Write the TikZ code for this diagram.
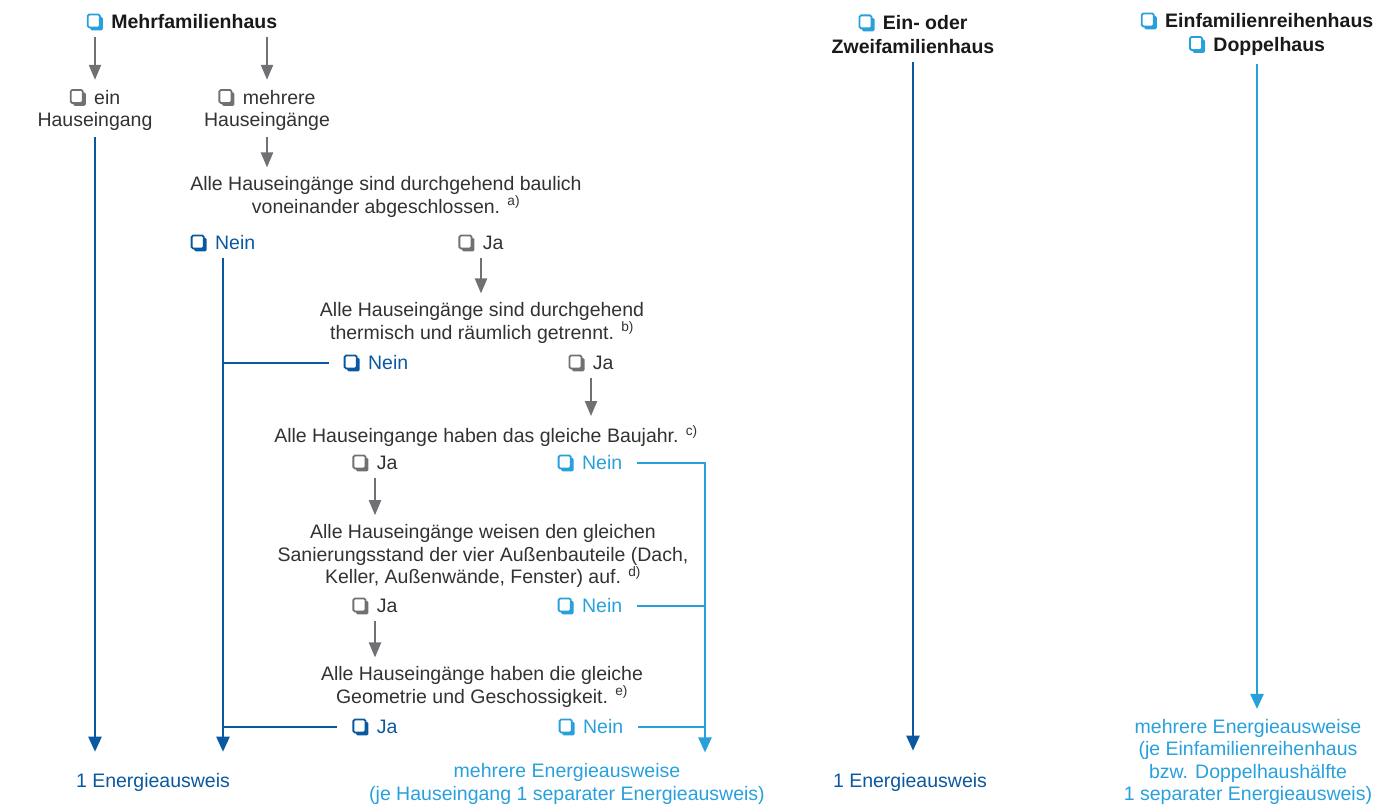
\documentclass[tikz,border=0pt]{standalone}
\usepackage{fontspec}
\setmainfont{Liberation Sans}
\usetikzlibrary{arrows.meta, calc}
\definecolor{darkblue}{RGB}{10,88,160}
\definecolor{lightblue}{RGB}{40,160,220}
\definecolor{arrowgray}{RGB}{112,113,117}
\definecolor{textgray}{RGB}{50,50,50}
\definecolor{headblack}{RGB}{25,25,25}
% shadowed check box
\newcommand{\chk}[1]{\tikz[baseline=0pt]{%
    \fill[#1, rounded corners=1.5pt] (3.5pt,-1.5pt) rectangle (16pt,12pt);
    \filldraw[fill=white, draw=#1, line width=1.8pt, rounded corners=1.5pt] (0.9pt,1.5pt) rectangle (13pt,14.5pt);}\hspace{3pt}}

\begin{document}
\begin{tikzpicture}[x=1pt, y=-1pt,
    every node/.style={inner sep=0pt, align=center, font=\fontsize{19.5}{22.5}\selectfont},
    txt/.style={text=textgray},
    head/.style={text=headblack, font=\fontsize{19.5}{23.5}\selectfont\bfseries},
    dark/.style={text=darkblue},
    light/.style={text=lightblue},
    grayarrow/.style={draw=arrowgray, line width=2.2pt, -{Triangle[length=15pt,width=12pt]}, shorten <=6pt, shorten >=9pt},
    darkline/.style={draw=darkblue, line width=2.4pt},
    lightline/.style={draw=lightblue, line width=2.4pt},
    tip/.style={-{Triangle[length=15pt,width=13pt]}},
    hgap/.style={shorten <=15pt}
]
    \useasboundingbox (0,0) rectangle (1392,808);

    % Mehrfamilienhaus
    \node[head] (mfh) at (182,22) {\chk{lightblue} Mehrfamilienhaus};
    \node[txt] (ein) at (95,110) {\chk{arrowgray} ein\\Hauseingang};
    \node[txt] (mehr) at (267,110) {\chk{arrowgray} mehrere\\Hauseingänge};

    \node[txt] (q1) at (386,197) {Alle Hauseingänge sind durchgehend baulich\\voneinander abgeschlossen. \textsuperscript{a)}};
    \node[dark] (q1no) at (223,243) {\chk{darkblue} Nein};
    \node[txt] (q1yes) at (481,243) {\chk{arrowgray} Ja};

    \node[txt] (q2) at (482,323) {Alle Hauseingänge sind durchgehend\\thermisch und räumlich getrennt. \textsuperscript{b)}};
    \node[dark] (q2no) at (376,363) {\chk{darkblue} Nein};
    \node[txt] (q2yes) at (591,363) {\chk{arrowgray} Ja};

    \node[txt] (q3) at (486,436) {Alle Hauseingange haben das gleiche Baujahr. \textsuperscript{c)}};
    \node[txt] (q3yes) at (375,463) {\chk{arrowgray} Ja};
    \node[light] (q3no) at (590,463) {\chk{lightblue} Nein};

    \node[txt] (q4) at (483,556) {Alle Hauseingänge weisen den gleichen\\Sanierungsstand der vier Außenbauteile (Dach,\\Keller, Außenwände, Fenster) auf. \textsuperscript{d)}};
    \node[txt] (q4yes) at (375,606) {\chk{arrowgray} Ja};
    \node[light] (q4no) at (590,606) {\chk{lightblue} Nein};

    \node[txt] (q5) at (482,687) {Alle Hauseingänge haben die gleiche\\Geometrie und Geschossigkeit. \textsuperscript{e)}};
    \node[dark] (q5yes) at (375,727) {\chk{darkblue} Ja};
    \node[light] (q5no) at (591,727) {\chk{lightblue} Nein};

    \node[dark] (res1) at (153,782) {1 Energieausweis};
    \node[light] (res2) at (567,784) {mehrere Energieausweise\\(je Hauseingang 1 separater Energieausweis)};
    \coordinate (lbus) at (705,463);

    % Ein- oder Zweifamilienhaus
    \node[head] (ezh) at (913,34) {\chk{lightblue} Ein- oder\\Zweifamilienhaus};
    \node[dark] (ezhres) at (910,782) {1 Energieausweis};

    % Reihenhaus / Doppelhaus
    \node[head] (efh) at (1257,34) {\chk{lightblue} Einfamilienreihenhaus\\\chk{lightblue} Doppelhaus};
    \node[light] (efhres) at (1248,762) {mehrere Energieausweise\\(je Einfamilienreihenhaus\\bzw. Doppelhaushälfte\\1 separater Energieausweis)};

    % gray arrows
    \draw[grayarrow] (mfh.south -| ein) -- (ein.north);
    \draw[grayarrow] (mfh.south -| mehr) -- (mehr.north);
    \draw[grayarrow] (mehr.south) -- (mehr |- q1.north);
    \draw[grayarrow] (q1yes.south) -- (q1yes |- q2.north);
    \draw[grayarrow] (q2yes.south) -- (q2yes |- q3.north);
    \draw[grayarrow] (q3yes.south) -- (q3yes |- q4.north);
    \draw[grayarrow] (q4yes.south) -- (q4yes |- q5.north);

    % dark blue paths
    \draw[darkline, tip, shorten <=6pt, shorten >=21pt] (ein.south) -- (ein |- res1.north);
    \draw[darkline, tip, shorten <=6pt, shorten >=21pt] (q1no.south) -- (q1no |- res1.north);
    \draw[darkline, hgap] (q2no.west) -- (q2no.west -| q1no);
    \draw[darkline, hgap] (q5yes.west) -- (q5yes.west -| q1no);
    \draw[darkline, tip, shorten <=8pt, shorten >=22pt] (ezh.south) -- (ezh |- ezhres.north);

    % light blue paths
    \draw[lightline, tip, hgap, shorten >=11pt] (q3no.east) -| (lbus |- res2.north);
    \draw[lightline, hgap] (q4no.east) -- (q4no.east -| lbus);
    \draw[lightline, hgap] (q5no.east) -- (q5no.east -| lbus);
    \draw[lightline, tip, shorten <=8pt, shorten >=10pt] (efh.south) -- (efh |- efhres.north);
\end{tikzpicture}
\end{document}
